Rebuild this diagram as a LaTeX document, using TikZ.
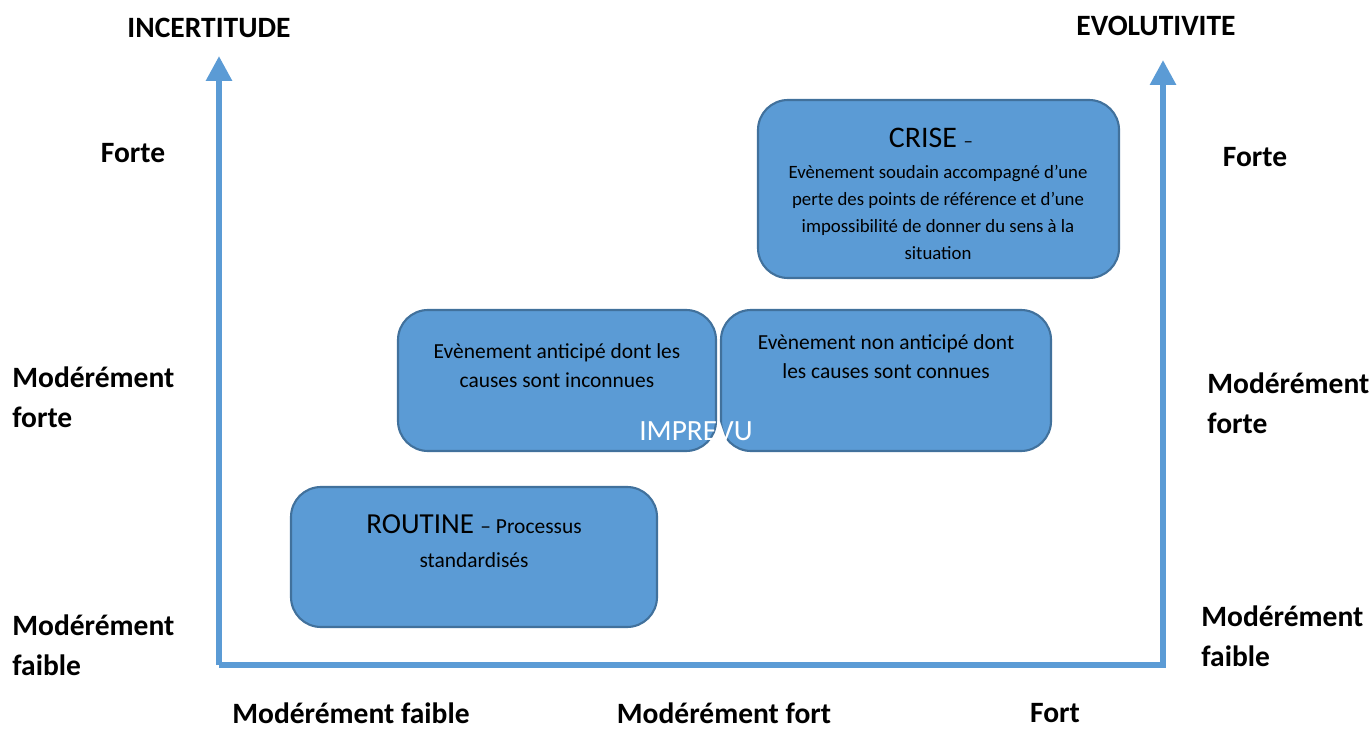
\documentclass[tikz,border=0pt]{standalone}
\usepackage{fontspec}
\setmainfont{Carlito}
\usetikzlibrary{arrows.meta}

\definecolor{boxblue}{HTML}{5B9BD5}
\definecolor{boxline}{HTML}{41719C}

\tikzset{
  zone/.style={draw=boxline, fill=boxblue, line width=1.2pt, rounded corners=0.6cm},
  axis/.style={draw=boxblue, line width=3.4pt, line join=miter, -{Triangle[width=0.5cm,length=0.5cm]}},
  lbl/.style={font=\bfseries\fontsize{16.8}{23}\selectfont, align=left, inner sep=0pt},
  inbox/.style={font=\fontsize{12.2}{16.4}\selectfont, align=center},
  crisebox/.style={font=\fontsize{10.7}{15.3}\selectfont, align=center}
}

\begin{document}
\begin{tikzpicture}[x=0.02cm, y=-0.02cm]
  \useasboundingbox (0,0) rectangle (1371,729);

  % Boxes
  \draw[zone] (758,100) rectangle (1119,278);
  \draw[zone] (398,310) rectangle (716,451);
  \draw[zone] (721,310) rectangle (1051,451);
  \draw[zone] (291,487) rectangle (657,627);

  % Box texts
  \node (crise) at (931,138) {\fontsize{17}{20}\selectfont CRISE \fontsize{10.7}{13}\selectfont --};
  \node (crisetxt) [crisebox, anchor=north] at (938,159) {Evènement soudain accompagné d’une\\perte des points de référence et d’une\\impossibilité de donner du sens à la\\situation};
  \node (anticipe) [inbox] at (557,366) {Evènement anticipé dont les\\causes sont inconnues};
  \node (nonanticipe) [inbox] at (886,357) {Evènement non anticipé dont\\les causes sont connues};
  \node (imprevu) [text=white, font=\fontsize{16.7}{20}\selectfont] at (696,431) {IMPREVU};
  \node (routine) at (474,524) {\fontsize{16.5}{20}\selectfont ROUTINE \fontsize{12.2}{14}\selectfont -- Processus};
  \node (standard) [inbox] at (474,560) {standardisés};

  % Axes
  \coordinate (origin) at (219,665);
  \coordinate (ytop) at (219,56);
  \coordinate (xend) at (1163,665);
  \coordinate (ztop) at (1163,60);
  \draw[axis] (origin) -- (ytop);
  \draw[axis] (origin) -- (xend) -- (ztop);

  % Axis labels
  \node (incert) [lbl] at (209,28) {INCERTITUDE};
  \node (evol) [lbl] at (1156,26) {EVOLUTIVITE};
  \node (forteL) [lbl] at (133,153) {Forte};
  \node (forteR) [lbl] at (1255,157) {Forte};
  \node (modfL) [lbl, anchor=west] at (12,397) {Modérément\\forte};
  \node (modfR) [lbl, anchor=west] at (1207,403) {Modérément\\forte};
  \node (modfaL) [lbl, anchor=west] at (12,645) {Modérément\\faible};
  \node (modfaR) [lbl, anchor=west] at (1201,636) {Modérément\\faible};
  \node (xfaible) [lbl] at (351,713) {Modérément faible};
  \node (xfort) [lbl] at (724,713) {Modérément fort};
  \node (xfort2) [lbl] at (1055,713) {Fort};
\end{tikzpicture}
\end{document}
